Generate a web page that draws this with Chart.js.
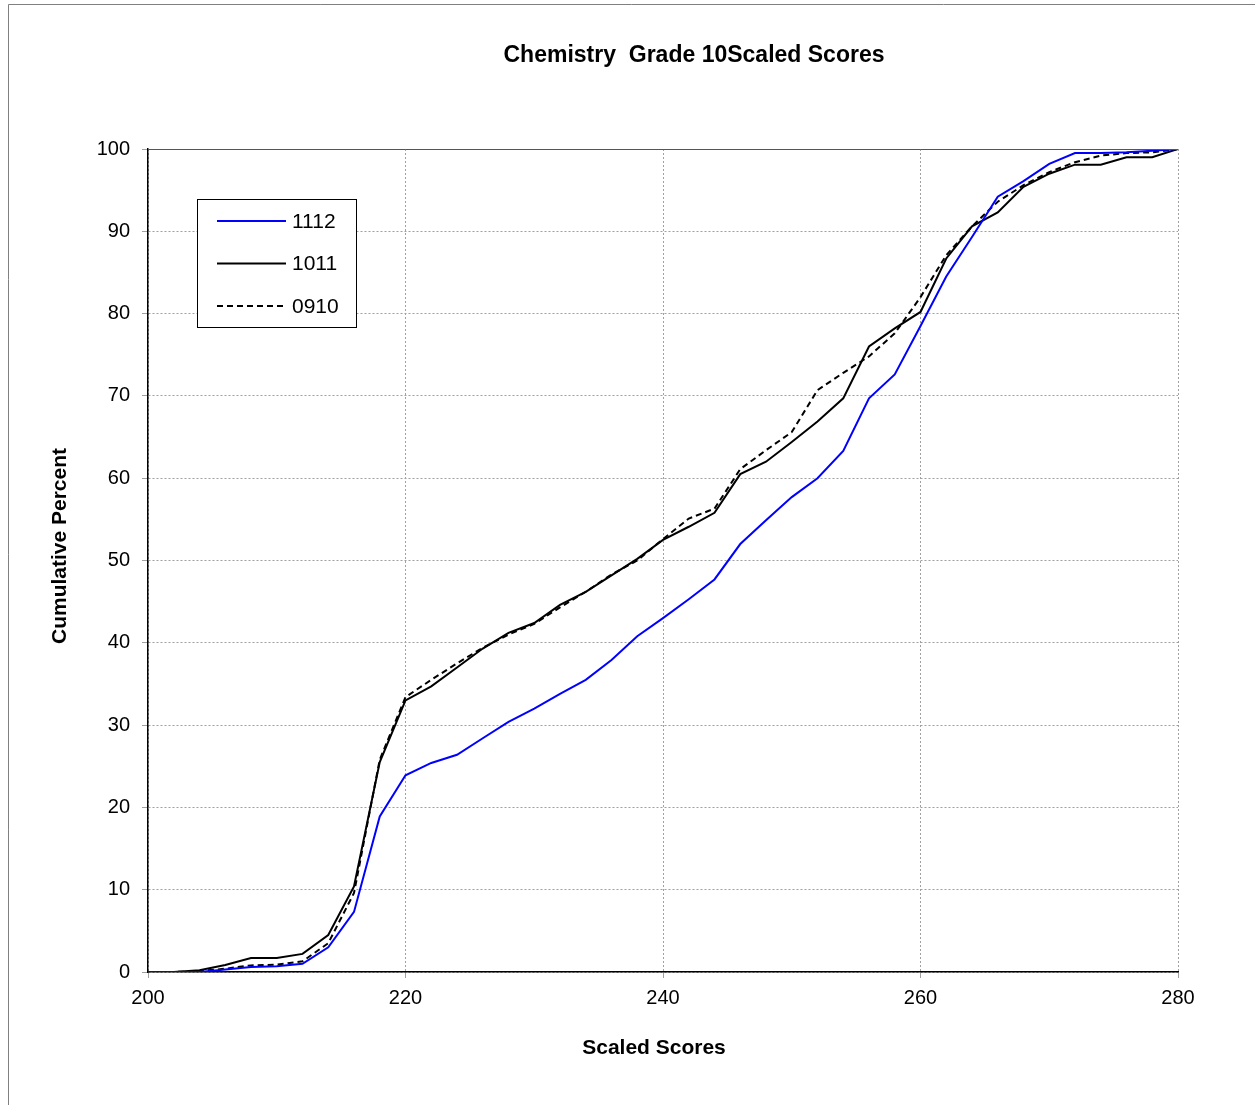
<!DOCTYPE html>
<html><head><meta charset="utf-8">
<script src="https://cdn.jsdelivr.net/npm/chart.js@4/dist/chart.umd.min.js"></script>
<style>html,body{margin:0;padding:0;background:#fff;overflow:hidden}</style>
</head><body>
<canvas id="c" width="1255" height="1105" style="display:block;width:1255px;height:1105px"></canvas>
<script>
const chartTitle = 'Chemistry  Grade 10Scaled Scores';
const xTitle = 'Scaled Scores';
const yTitle = 'Cumulative Percent';
const seriesLabels = ['1112', '1011', '0910'];
const scores = [200,202,204,206,208,210,212,214,216,218,220,222,224,226,228,230,232,234,236,238,240,242,244,246,248,250,252,254,256,258,260,262,264,266,268,270,272,274,276,278,280];
const s1112 = [0,0,0,0.3,0.6,0.7,1.0,3.0,7.3,18.9,23.9,25.4,26.4,28.4,30.4,32.0,33.8,35.5,37.9,40.8,43.0,45.3,47.7,52.0,54.9,57.7,60.0,63.3,69.7,72.6,78.5,84.5,89.3,94.2,96.1,98.2,99.5,99.5,99.6,99.8,100];
const s1011 = [0,0,0.2,0.85,1.7,1.7,2.2,4.5,10.4,25.5,33.0,34.7,37.0,39.3,41.2,42.4,44.6,46.2,48.2,50.2,52.5,54.1,55.8,60.5,62.0,64.4,66.9,69.7,76.0,78.2,80.2,86.7,90.6,92.3,95.4,97.0,98.1,98.1,99.0,99.0,100];
const s0910 = [0,0,0.1,0.4,0.8,0.9,1.3,3.5,9.6,25.8,33.4,35.5,37.5,39.4,41.0,42.3,44.3,46.2,48.3,50.0,52.6,55.1,56.3,61.1,63.4,65.6,70.7,72.8,74.8,77.6,82.0,87.1,90.6,93.6,95.6,97.2,98.4,99.2,99.5,99.6,100];

const FONT = '"Liberation Sans", Arial, sans-serif';
const toPts = arr => scores.map((x, i) => ({x: x, y: arr[i]}));

const decor = {
  id: 'decor',
  beforeDraw(chart) {
    const ctx = chart.ctx;
    ctx.save();
    ctx.fillStyle = '#fff';
    ctx.fillRect(0, 0, chart.width, chart.height);
    ctx.strokeStyle = '#808080';
    ctx.lineWidth = 1;
    ctx.beginPath();
    ctx.moveTo(8.5, 1105); ctx.lineTo(8.5, 4.5); ctx.lineTo(1255, 4.5);
    ctx.stroke();
    ctx.restore();
  },
  afterDraw(chart) {
    const ctx = chart.ctx;
    const a = chart.chartArea;
    ctx.save();
    ctx.strokeStyle = '#555';
    ctx.lineWidth = 1;
    ctx.beginPath();
    ctx.moveTo(a.left, Math.round(a.top) + 0.5); ctx.lineTo(a.right, Math.round(a.top) + 0.5);
    ctx.stroke();
    ctx.fillStyle = '#000';
    ctx.textAlign = 'center';
    ctx.textBaseline = 'middle';
    ctx.font = 'bold 23px ' + FONT;
    ctx.fillText(chartTitle, 694, 56);
    ctx.font = 'bold 21px ' + FONT;
    ctx.fillText(xTitle, 654, 1048);
    ctx.save();
    ctx.translate(60, 546);
    ctx.rotate(-Math.PI / 2);
    ctx.fillText(yTitle, 0, 0);
    ctx.restore();
    // legend
    const bx = 197, by = 199, bw = 159, bh = 128;
    ctx.fillStyle = '#fff';
    ctx.fillRect(bx, by, bw, bh);
    ctx.strokeStyle = '#000';
    ctx.lineWidth = 1;
    ctx.strokeRect(bx + 0.5, by + 0.5, bw, bh);
    ctx.font = '21px ' + FONT;
    ctx.textAlign = 'left';
    chart.data.datasets.forEach((ds, i) => {
      const y = 221 + i * 42.5;
      ctx.strokeStyle = ds.borderColor;
      ctx.lineWidth = ds.borderWidth;
      ctx.setLineDash(ds.borderDash || []);
      ctx.beginPath();
      ctx.moveTo(217, y); ctx.lineTo(286, y);
      ctx.stroke();
      ctx.setLineDash([]);
      ctx.fillStyle = '#000';
      ctx.fillText(ds.label, 292, y + 1);
    });
    ctx.restore();
  }
};

new Chart(document.getElementById('c'), {
  type: 'line',
  data: {
    datasets: [
      {label: seriesLabels[0], data: toPts(s1112), borderColor: '#0000ff', borderWidth: 2, pointRadius: 0, fill: false, tension: 0},
      {label: seriesLabels[1], data: toPts(s1011), borderColor: '#000000', borderWidth: 2, pointRadius: 0, fill: false, tension: 0},
      {label: seriesLabels[2], data: toPts(s0910), borderColor: '#000000', borderWidth: 2, borderDash: [6, 4], pointRadius: 0, fill: false, tension: 0}
    ]
  },
  options: {
    responsive: false,
    animation: false,
    devicePixelRatio: 1,
    layout: {padding: {left: 0, right: 77, top: 149, bottom: 0}},
    plugins: {legend: {display: false}, title: {display: false}, tooltip: {enabled: false}},
    scales: {
      x: {
        type: 'linear', min: 200, max: 280,
        afterFit: s => { s.height = 133; },
        ticks: {stepSize: 20, color: '#000', font: {family: FONT, size: 20}, padding: 8, maxRotation: 0},
        grid: {color: '#a0a0a0', lineWidth: 1, tickLength: 6, tickColor: '#a0a0a0'},
        border: {display: true, color: '#000', width: 1.5, dash: [2, 2]},
        title: {display: false}
      },
      y: {
        type: 'linear', min: 0, max: 100,
        afterFit: s => { s.width = 148; },
        ticks: {stepSize: 10, color: '#000', font: {family: FONT, size: 20}, padding: 12},
        grid: {color: '#a0a0a0', lineWidth: 1, tickLength: 6, tickColor: '#a0a0a0'},
        border: {display: true, color: '#000', width: 1.5, dash: [2, 2]},
        title: {display: false}
      }
    }
  },
  plugins: [decor]
});
</script>
</body></html>
